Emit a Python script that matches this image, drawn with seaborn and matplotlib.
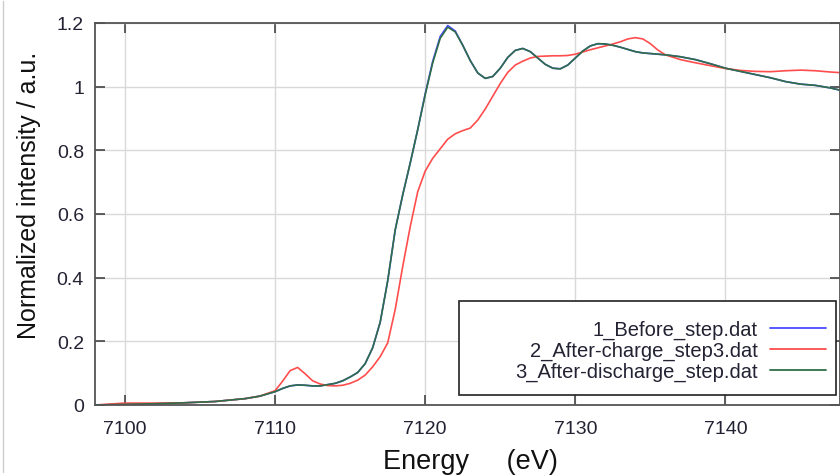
import matplotlib
matplotlib.use("Agg")
import matplotlib.pyplot as plt
from matplotlib.lines import Line2D
from matplotlib.patches import Rectangle
import seaborn as sns
import pandas as pd

energy = [7098, 7100, 7102, 7104, 7106, 7108, 7109, 7110, 7110.5, 7111, 7111.5, 7112, 7112.5,
          7113, 7113.5, 7114, 7114.5, 7115, 7115.5, 7116, 7116.5, 7117, 7117.5, 7118, 7118.5,
          7119, 7119.5, 7120, 7120.5, 7121, 7121.5, 7122, 7122.5, 7123, 7123.5, 7124, 7124.5,
          7125, 7125.5, 7126, 7126.5, 7127, 7127.5, 7128, 7128.5, 7129, 7129.5, 7130, 7130.5,
          7131, 7131.5, 7132, 7132.5, 7133, 7133.5, 7134, 7134.5, 7135, 7135.5, 7136, 7137,
          7138, 7139, 7140, 7141, 7142, 7143, 7144, 7145, 7146, 7147, 7148]

before = [0.0, 0.002, 0.004, 0.007, 0.011, 0.02, 0.028, 0.042, 0.052, 0.060, 0.063, 0.062, 0.060,
          0.060, 0.064, 0.068, 0.076, 0.088, 0.102, 0.13, 0.18, 0.26, 0.39, 0.55, 0.66,
          0.76, 0.865, 0.978, 1.08, 1.158, 1.192, 1.175, 1.13, 1.082, 1.043, 1.026, 1.032,
          1.058, 1.092, 1.114, 1.12, 1.11, 1.09, 1.07, 1.058, 1.056, 1.068, 1.09, 1.112,
          1.128, 1.135, 1.134, 1.13, 1.124, 1.117, 1.11, 1.106, 1.104, 1.102, 1.1, 1.094,
          1.085, 1.072, 1.058, 1.048, 1.038, 1.028, 1.016, 1.008, 1.004, 0.996, 0.985]

after_charge = [0.0, 0.006, 0.006, 0.007, 0.011, 0.02, 0.028, 0.045, 0.075, 0.108, 0.118, 0.098, 0.076,
                0.066, 0.061, 0.060, 0.062, 0.068, 0.078, 0.094, 0.12, 0.152, 0.195, 0.30, 0.435,
                0.56, 0.67, 0.735, 0.775, 0.805, 0.835, 0.852, 0.862, 0.87, 0.895, 0.93, 0.97,
                1.01, 1.045, 1.068, 1.08, 1.09, 1.095, 1.096, 1.097, 1.097, 1.098, 1.102, 1.109,
                1.116, 1.122, 1.128, 1.134, 1.141, 1.15, 1.154, 1.15, 1.135, 1.115, 1.1, 1.085,
                1.075, 1.066, 1.057, 1.051, 1.048, 1.047, 1.05, 1.052, 1.05, 1.046, 1.043]

after_discharge = [0.0, 0.002, 0.004, 0.007, 0.011, 0.02, 0.028, 0.042, 0.052, 0.060, 0.063, 0.062, 0.060,
                   0.060, 0.064, 0.068, 0.076, 0.088, 0.102, 0.13, 0.18, 0.26, 0.39, 0.55, 0.66,
                   0.76, 0.865, 0.975, 1.075, 1.152, 1.187, 1.172, 1.13, 1.082, 1.043, 1.026, 1.032,
                   1.058, 1.092, 1.114, 1.12, 1.11, 1.09, 1.07, 1.058, 1.056, 1.068, 1.09, 1.112,
                   1.128, 1.135, 1.134, 1.13, 1.124, 1.117, 1.11, 1.106, 1.104, 1.102, 1.1, 1.094,
                   1.085, 1.072, 1.058, 1.048, 1.038, 1.028, 1.016, 1.008, 1.004, 0.996, 0.985]

series_names = ["1_Before_step.dat", "2_After-charge_step3.dat", "3_After-discharge_step.dat"]
series_colors = ["#4a4aff", "#ff4d4d", "#2f6e46"]

x_ticks = [7100, 7110, 7120, 7130, 7140]
y_ticks = [0, 0.2, 0.4, 0.6, 0.8, 1.0, 1.2]
y_tick_labels = ["0", "0.2", "0.4", "0.6", "0.8", "1", "1.2"]

rows = []
for name, vals in zip(series_names, [before, after_charge, after_discharge]):
    for e, v in zip(energy, vals):
        rows.append({"energy": e, "intensity": v, "series": name})
df = pd.DataFrame(rows)

sns.set_theme(style="white")
plt.rcParams["font.family"] = ["Liberation Sans", "DejaVu Sans"]

fig = plt.figure(figsize=(8.4, 4.77), dpi=100)
ax = fig.add_axes([95 / 840, 1 - 406 / 477, 744.5 / 840, 382 / 477])

sns.lineplot(data=df, x="energy", y="intensity", hue="series", hue_order=series_names,
             palette=series_colors, estimator=None, sort=False, linewidth=1.2, ax=ax, legend=False)

ax.set_xlim(7098.0, 7147.6)
ax.set_ylim(0, 1.2)
ax.set_xticks(x_ticks)
ax.set_xticklabels([str(t) for t in x_ticks])
ax.set_yticks(y_ticks)
ax.set_yticklabels(y_tick_labels)
ax.grid(True, color="#d9d9d9", linewidth=1.0)
ax.set_axisbelow(True)

for s in ax.spines.values():
    s.set_color("#555555")
    s.set_linewidth(1.3)
    s.set_visible(True)

ax.tick_params(axis="both", which="both", direction="in", length=7, width=1.2, color="#444444",
               labelsize=14, labelcolor="#222233", top=True, right=True, bottom=True, left=True,
               pad=8)
ax.tick_params(axis="x", pad=11)

ax.set_xlabel("Energy     (eV)", fontsize=19.5, color="#111111")
ax.xaxis.set_label_coords(0.504, -0.112)
ax.xaxis.label.set_va("top")
ax.set_ylabel("Normalized intensity / a.u.", fontsize=18, color="#111111")
ax.yaxis.set_label_coords(-0.073, 0.552)

# legend frame (wider on the left, as in the reference)
frame = Rectangle((0.4889, 0.0262), 0.9953 - 0.4889, 0.2723 - 0.0262, transform=ax.transAxes,
                  facecolor="white", edgecolor="#222222", linewidth=1.2, zorder=4)
ax.add_patch(frame)

handles = [Line2D([0], [0], color=c, lw=1.3) for c in series_colors]
leg = ax.legend(handles, series_names, loc="lower right", bbox_to_anchor=(0.9975, 0.03),
                markerfirst=False, fontsize=14.5, frameon=False,
                labelspacing=0.1, handlelength=2.75,
                handletextpad=0.6, borderpad=0.6, borderaxespad=0.0)
leg.set_zorder(5)
for t in leg.get_texts():
    t.set_color("#222233")

fig.add_artist(Line2D([0.0035, 0.0035], [0.008, 0.995], color="#cccccc", lw=1.0,
                      transform=fig.transFigure))

fig.savefig("out.png", dpi=100)
